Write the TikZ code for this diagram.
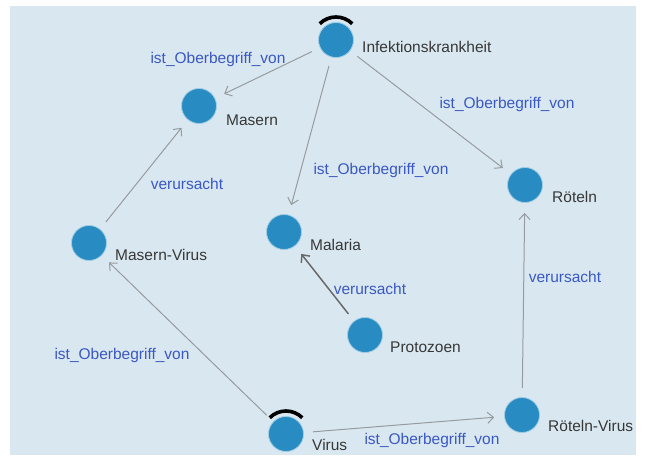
\documentclass[tikz,border=0pt]{standalone}
\usepackage{fontspec}
\setmainfont{Liberation Sans}
\usetikzlibrary{arrows.meta}
\definecolor{bgblue}{RGB}{217,232,240}
\definecolor{dotblue}{RGB}{40,140,195}
\definecolor{halo}{RGB}{160,205,228}
\definecolor{textgray}{RGB}{55,55,55}
\definecolor{relblue}{RGB}{58,88,196}
\definecolor{linegray}{RGB}{150,155,160}
\definecolor{darkline}{RGB}{105,105,105}
\begin{document}
\begin{tikzpicture}[x=1pt, y=1pt,
	concept/.style={circle, fill=dotblue, draw=halo, line width=0.8pt, inner sep=0pt, minimum size=35pt},
	cname/.style={anchor=west, inner sep=0pt, text=textgray, font=\fontsize{15.5}{18}\selectfont},
	rel/.style={inner sep=0pt, text=relblue, font=\fontsize{15.5}{18}\selectfont},
	link/.style={draw=linegray, line width=1pt, shorten >=10pt, shorten <=9pt,
		-{Straight Barb[length=6pt, width=11pt]}},
	hatarc/.style={line width=3.6pt, black}]
	   \useasboundingbox (0, 0) rectangle (649, -462);
	   % background panel
	   \fill [bgblue] (10, -6) rectangle (636, -455);
	   % draw concepts
	   \node [concept] (inf) at (336, -40) {};
	   \node [concept] (masern) at (199, -106) {};
	   \node [concept] (roeteln) at (525, -185) {};
	   \node [concept] (malaria) at (284, -232) {};
	   \node [concept] (mvirus) at (89, -243) {};
	   \node [concept] (proto) at (365, -335) {};
	   \node [concept] (virus) at (286, -434) {};
	   \node [concept] (rvirus) at (522, -415) {};
	   % names of concepts
	   \node [cname] (infname) at (362, -47) {Infektionskrankheit};
	   \node [cname] (masernname) at (226, -120) {Masern};
	   \node [cname] (roetelnname) at (552, -197) {Röteln};
	   \node [cname] (malarianame) at (310, -245) {Malaria};
	   \node [cname] (mvirusname) at (115, -255) {Masern-Virus};
	   \node [cname] (protoname) at (390, -347) {Protozoen};
	   \node [cname] (virusname) at (312, -445) {Virus};
	   \node [cname] (rvirusname) at (548, -426) {Röteln-Virus};
	   % top concepts get a little hat
	   \draw [hatarc] ([shift={(45:23)}]inf.center) arc (45:135:23);
	   \draw [hatarc] ([shift={(45:23)}]virus.center) arc (45:135:23);
	   % relations
	   \draw [link] (inf) -- (masern);
	   \draw [link] (inf) -- (malaria);
	   \draw [link] (inf) -- (roeteln);
	   \draw [link] (mvirus) -- (masern);
	   \draw [link, draw=darkline, line width=1.5pt] (proto) -- (malaria);
	   \draw [link] (rvirus) -- (roeteln);
	   \draw [link] (virus) -- (mvirus);
	   \draw [link] (virus) -- (rvirus);
	   % relation labels
	   \node [rel] (r1) at (218, -59) {ist\_Oberbegriff\_von};
	   \node [rel] (r2) at (507, -104) {ist\_Oberbegriff\_von};
	   \node [rel] (r3) at (381, -170) {ist\_Oberbegriff\_von};
	   \node [rel] (r4) at (187, -184) {verursacht};
	   \node [rel] (r5) at (370, -289) {verursacht};
	   \node [rel] (r6) at (565, -277) {verursacht};
	   \node [rel] (r7) at (122, -355) {ist\_Oberbegriff\_von};
	   \node [rel] (r8) at (432, -440) {ist\_Oberbegriff\_von};
\end{tikzpicture}
\end{document}
